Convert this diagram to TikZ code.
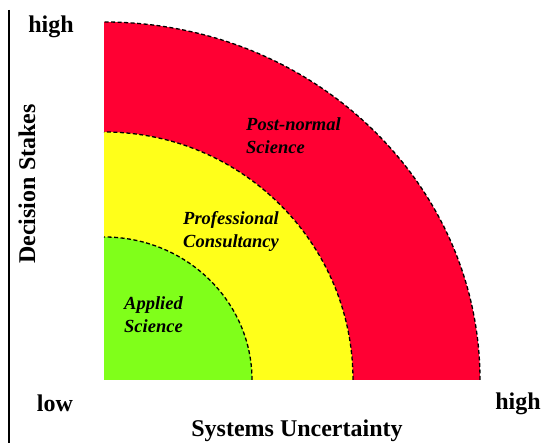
\documentclass[tikz,border=0pt]{standalone}
\usepackage{fontspec}
\setmainfont{Liberation Serif}
\definecolor{pnred}{RGB}{255,0,51}
\definecolor{pcyellow}{RGB}{255,255,26}
\definecolor{asgreen}{RGB}{128,255,26}
\begin{document}
\begin{tikzpicture}[x=1pt,y=1pt,
  zoneline/.style={draw=black,line width=1.3pt,dash pattern=on 4pt off 2.5pt},
  axislabel/.style={font=\bfseries\fontsize{24}{28}\selectfont,inner sep=0pt},
  zonelabel/.style={font=\bfseries\itshape\fontsize{18.5}{23.5}\selectfont,align=left,inner sep=0pt,anchor=base west}]
\useasboundingbox (0,0) rectangle (542,443);
\coordinate (O) at (104,63);
% sectors
\fill[pnred] (O) -- ++(376,0) arc[start angle=0,end angle=90,x radius=376,y radius=358] -- cycle;
\fill[pcyellow] (O) -- ++(249,0) arc[start angle=0,end angle=90,x radius=249,y radius=248] -- cycle;
\fill[asgreen] (O) -- ++(148,0) arc[start angle=0,end angle=90,x radius=148,y radius=143] -- cycle;
% dashed boundaries
\draw[zoneline] (O) ++(376,0) arc[start angle=0,end angle=90,x radius=376,y radius=358];
\draw[zoneline] (O) ++(249,0) arc[start angle=0,end angle=90,x radius=249,y radius=248];
\draw[zoneline] (O) ++(148,0) arc[start angle=0,end angle=90,x radius=148,y radius=143];
% axis
\coordinate (axtop) at (9,433);
\coordinate (axbot) at (9,0);
\draw[line width=1.6pt] (axtop) -- (axbot);
% axis labels
\node[axislabel,anchor=base] (yhigh) at (51,410) {high};
\node[axislabel,anchor=base] (xlow) at (55,31) {low};
\node[axislabel,anchor=base] (xhigh) at (518,33) {high};
\node[axislabel,anchor=base] (xtitle) at (297,6) {Systems Uncertainty};
\node[axislabel,anchor=base,rotate=90] (ytitle) at (35,259) {Decision Stakes};
% zone labels (anchor = baseline of the last line)
\node[zonelabel] (pns) at (246,289) {Post-normal\\Science};
\node[zonelabel] (pc) at (183,195) {Professional\\Consultancy};
\node[zonelabel] (as) at (124,110) {Applied\\Science};
\end{tikzpicture}
\end{document}
